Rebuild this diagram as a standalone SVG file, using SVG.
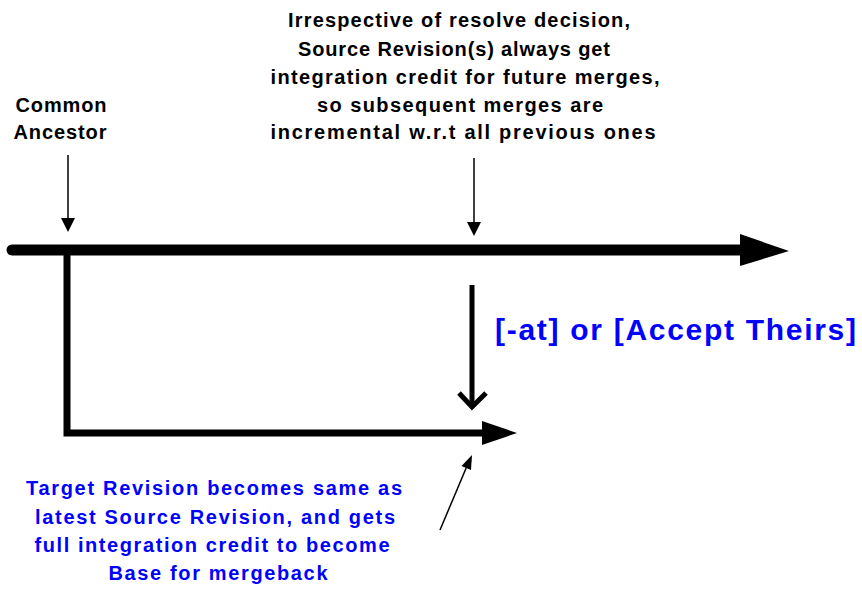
<svg xmlns="http://www.w3.org/2000/svg" width="862" height="591" viewBox="0 0 862 591">
  <style>
    .lbl { font-family: "Liberation Sans", Arial, sans-serif; font-weight: bold; font-size: 20px; fill: #000; text-anchor: middle; }
    .blue { fill: #0000ff; }
    .big { font-size: 30px; text-anchor: start; }
    .thin { stroke: #000; stroke-width: 1.5; fill: none; }
    .head { fill: #000; stroke: none; }
  </style>
  <rect width="862" height="591" fill="#fff"/>

  <g id="connectors">
    <!-- main source branch -->
    <line x1="12" y1="250" x2="745" y2="250" stroke="#000" stroke-width="11" stroke-linecap="round"/>
    <polygon class="head" points="740,234 789,251 740,266"/>
    <!-- target branch -->
    <path d="M67 250 V433 H486" fill="none" stroke="#000" stroke-width="7" stroke-linejoin="miter"/>
    <polygon class="head" points="482,421 517,433 482,445"/>
    <!-- merge arrow -->
    <line x1="472" y1="285" x2="472" y2="406" stroke="#000" stroke-width="5"/>
    <polyline points="459,393 472,407 486,393" fill="none" stroke="#000" stroke-width="5"/>
    <!-- pointer: common ancestor -->
    <line class="thin" x1="68" y1="155" x2="68" y2="220"/>
    <polygon class="head" points="61,218 75,218 68,232"/>
    <!-- pointer: integration credit -->
    <line class="thin" x1="474" y1="158" x2="474" y2="224"/>
    <polygon class="head" points="467,222 481,222 474,236"/>
    <!-- pointer: target revision -->
    <line class="thin" x1="440" y1="530" x2="467" y2="466"/>
    <polygon class="head" points="472,455 471,470 461.5,466"/>
  </g>

  <g id="common-ancestor">
    <text class="lbl" x="61" y="112" textLength="91" lengthAdjust="spacing">Common</text>
    <text class="lbl" x="60" y="139" textLength="93" lengthAdjust="spacing">Ancestor</text>
  </g>

  <g id="credit-note">
    <text class="lbl" x="459" y="27" textLength="342" lengthAdjust="spacing">Irrespective of resolve decision,</text>
    <text class="lbl" x="454" y="56" textLength="312" lengthAdjust="spacing">Source Revision(s) always get</text>
    <text class="lbl" x="465" y="84" textLength="389" lengthAdjust="spacing">integration credit for future merges,</text>
    <text class="lbl" x="460" y="112" textLength="286" lengthAdjust="spacing">so subsequent merges are</text>
    <text class="lbl" x="463" y="139" textLength="385" lengthAdjust="spacing">incremental w.r.t all previous ones</text>
  </g>

  <g id="accept-theirs">
    <text class="lbl blue big" x="495" y="340" textLength="361" lengthAdjust="spacing">[-at] or [Accept Theirs]</text>
  </g>

  <g id="target-note">
    <text class="lbl blue" x="214" y="495" textLength="376" lengthAdjust="spacing">Target Revision becomes same as</text>
    <text class="lbl blue" x="215" y="524" textLength="360" lengthAdjust="spacing">latest Source Revision, and gets</text>
    <text class="lbl blue" x="212" y="552" textLength="355" lengthAdjust="spacing">full integration credit to become</text>
    <text class="lbl blue" x="218" y="580" textLength="219" lengthAdjust="spacing">Base for mergeback</text>
  </g>
</svg>
